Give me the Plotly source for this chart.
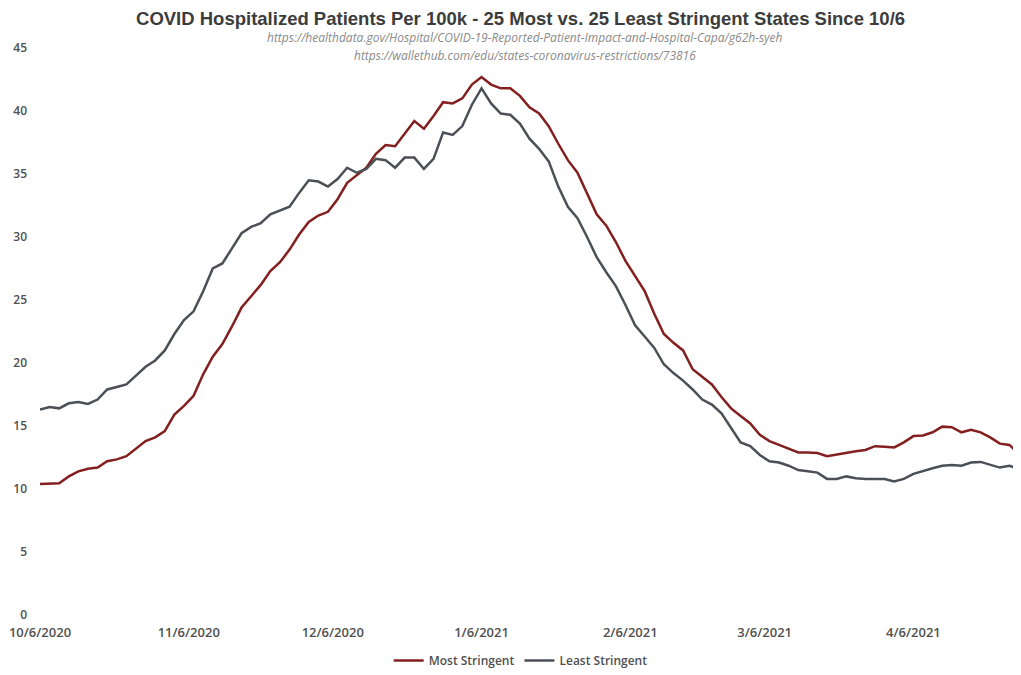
import pandas as pd
import plotly.graph_objects as go

# valori, un punto ogni 2 giorni dal 10/6/2020
start_date = "2020-10-06"

most_stringent = [
    10.4, 10.4, 10.45, 11.0, 11.4, 11.6, 11.7, 12.2, 12.35, 12.6,
    13.2, 13.8, 14.1, 14.6, 15.9, 16.6, 17.4, 19.1, 20.5, 21.5,
    22.9, 24.4, 25.3, 26.2, 27.3, 28.0, 29.0, 30.2, 31.2, 31.7,
    32.0, 33.0, 34.3, 34.9, 35.5, 36.6, 37.3, 37.2, 38.2, 39.2,
    38.6, 39.6, 40.7, 40.6, 41.0, 42.1, 42.7, 42.1, 41.8, 41.8,
    41.2, 40.3, 39.8, 38.8, 37.4, 36.1, 35.1, 33.4, 31.8, 30.9,
    29.6, 28.1, 26.9, 25.7, 23.9, 22.3, 21.6, 21.0, 19.5, 18.9,
    18.3, 17.3, 16.4, 15.8, 15.2, 14.3, 13.8, 13.5, 13.2, 12.9,
    12.9, 12.85, 12.6, 12.75, 12.9, 13.0, 13.1, 13.4, 13.35, 13.3,
    13.7, 14.2, 14.25, 14.5, 14.95, 14.9, 14.5, 14.7, 14.5, 14.1,
    13.6, 13.5, 12.8,
]

least_stringent = [
    16.3, 16.5, 16.4, 16.8, 16.9, 16.75, 17.1, 17.9, 18.1, 18.3,
    19.0, 19.7, 20.2, 21.0, 22.3, 23.4, 24.1, 25.7, 27.5, 27.9,
    29.1, 30.3, 30.8, 31.1, 31.8, 32.1, 32.4, 33.5, 34.5, 34.4,
    34.0, 34.6, 35.5, 35.1, 35.4, 36.2, 36.1, 35.5, 36.3, 36.3,
    35.4, 36.2, 38.3, 38.1, 38.8, 40.5, 41.8, 40.6, 39.8, 39.7,
    39.0, 37.8, 37.0, 36.0, 34.0, 32.4, 31.5, 30.0, 28.4, 27.2,
    26.1, 24.6, 23.0, 22.1, 21.2, 19.9, 19.2, 18.6, 17.9, 17.1,
    16.7, 16.0, 14.9, 13.7, 13.4, 12.7, 12.2, 12.1, 11.85, 11.5,
    11.4, 11.3, 10.8, 10.8, 11.0, 10.85, 10.8, 10.8, 10.8, 10.6,
    10.8, 11.2, 11.45, 11.65, 11.85, 11.9, 11.85, 12.1, 12.15, 11.95,
    11.7, 11.85, 11.6,
]

tick_dates = ["2020-10-06", "2020-11-06", "2020-12-06", "2021-01-06",
              "2021-02-06", "2021-03-06", "2021-04-06"]
tick_labels = ["10/6/2020", "11/6/2020", "12/6/2020", "1/6/2021",
               "2/6/2021", "3/6/2021", "4/6/2021"]

dates = pd.date_range(start_date, periods=len(most_stringent), freq="2D")

RED = "#83201f"
GRAY = "#4b5056"
TEXT = "#505050"

fig = go.Figure()

fig.add_trace(go.Scatter(
    x=dates, y=most_stringent, mode="lines", name="Most Stringent",
    line=dict(color=RED, width=2.5)
))
fig.add_trace(go.Scatter(
    x=dates, y=least_stringent, mode="lines", name="Least Stringent",
    line=dict(color=GRAY, width=2.5)
))

# righe delle fonti sotto il titolo
fig.add_annotation(
    text="<i>https://healthdata.gov/Hospital/COVID-19-Reported-Patient-Impact-and-Hospital-Capa/g62h-syeh</i>",
    xref="paper", yref="paper", x=0.494, y=1.0185, showarrow=False,
    xanchor="center", yanchor="middle",
    font=dict(family="Open Sans", size=12, color="#8a8a8a")
)
fig.add_annotation(
    text="<i>https://wallethub.com/edu/states-coronavirus-restrictions/73816</i>",
    xref="paper", yref="paper", x=0.494, y=0.986, showarrow=False,
    xanchor="center", yanchor="middle",
    font=dict(family="Open Sans", size=12, color="#8a8a8a")
)

# la pagina ha 8px di margine sul body: dimensioni compensate
fig.update_layout(
    width=1013, height=667,
    margin=dict(l=32, r=0, t=40, b=58),
    paper_bgcolor="white", plot_bgcolor="white",
    title=dict(
        text="COVID Hospitalized Patients Per 100k - 25 Most vs. 25 Least Stringent States Since 10/6",
        x=0.506, xanchor="center", y=1 - 10.4 / 667, yanchor="middle",
        font=dict(family="Liberation Sans", size=18.5, color="#3c3c3c", weight="bold")
    ),
    xaxis=dict(
        range=["2020-10-06", "2021-04-28 10:00"],
        tickvals=tick_dates, ticktext=tick_labels,
        showgrid=False, zeroline=False, showline=False, ticks="",
        ticklabelstandoff=8,
        tickfont=dict(family="Open Sans", size=13, color=TEXT, weight=600)
    ),
    yaxis=dict(
        range=[0, 45], tickvals=list(range(0, 50, 5)),
        showgrid=False, zeroline=False, showline=False, ticks="",
        ticklabelstandoff=12,
        tickfont=dict(family="Open Sans", size=12, color=TEXT, weight=600)
    ),
    legend=dict(
        orientation="h", x=0.49, xanchor="center", y=-0.081, yanchor="middle",
        font=dict(family="Open Sans", size=12, color=TEXT, weight=600),
        itemwidth=30, tracegroupgap=0
    ),
    showlegend=True
)

fig.write_html("out.html")
